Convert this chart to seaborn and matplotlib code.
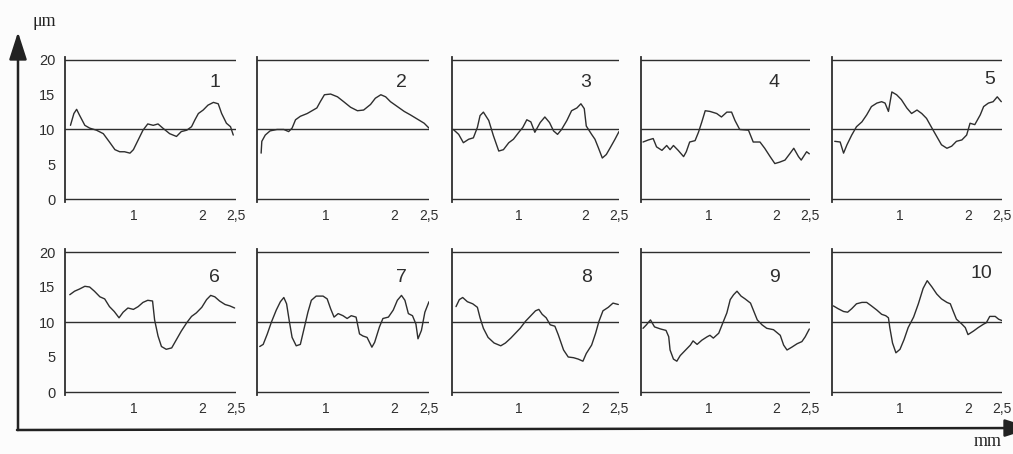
import matplotlib
matplotlib.use("Agg")
import matplotlib.pyplot as plt
import seaborn as sns
import pandas as pd

# профилограммы: x в мм, y в мкм
x1 = [0.08, 0.13, 0.17, 0.21, 0.29, 0.36, 0.46, 0.56, 0.65, 0.73, 0.80, 0.87, 0.95, 1.00, 1.07, 1.14, 1.21, 1.29,
      1.36, 1.43, 1.53, 1.63, 1.70, 1.78, 1.85, 1.90, 1.95, 2.02, 2.09, 2.17, 2.24, 2.29, 2.36, 2.42, 2.46]
y1 = [10.6, 12.3, 12.9, 12.1, 10.6, 10.2, 9.9, 9.4, 8.2, 7.1, 6.8, 6.8, 6.6, 7.1, 8.5, 9.9, 10.8, 10.6,
      10.8, 10.2, 9.4, 9.0, 9.7, 9.9, 10.4, 11.4, 12.3, 12.8, 13.5, 13.9, 13.7, 12.3, 10.9, 10.4, 9.2]

x2 = [0.06, 0.07, 0.12, 0.19, 0.29, 0.39, 0.46, 0.51, 0.56, 0.63, 0.73, 0.80, 0.87, 0.92, 0.98, 1.07, 1.17, 1.26,
      1.36, 1.46, 1.55, 1.65, 1.72, 1.80, 1.87, 1.94, 2.04, 2.14, 2.23, 2.33, 2.43, 2.50]
y2 = [6.6, 8.3, 9.2, 9.8, 10.0, 10.0, 9.7, 10.2, 11.4, 11.9, 12.3, 12.7, 13.1, 14.0, 15.0, 15.1, 14.7, 14.0,
      13.2, 12.7, 12.8, 13.6, 14.5, 15.0, 14.7, 14.0, 13.3, 12.6, 12.1, 11.5, 10.9, 10.2]

x3 = [0.02, 0.10, 0.17, 0.25, 0.32, 0.38, 0.42, 0.47, 0.55, 0.62, 0.70, 0.77, 0.85, 0.92, 1.00, 1.06, 1.12, 1.18,
      1.24, 1.32, 1.39, 1.46, 1.52, 1.58, 1.64, 1.72, 1.79, 1.87, 1.93, 1.98, 2.01, 2.09, 2.14, 2.19, 2.25, 2.31,
      2.37, 2.44, 2.50]
y3 = [10.0, 9.3, 8.1, 8.6, 8.8, 10.3, 12.0, 12.5, 11.3, 9.1, 6.9, 7.1, 8.1, 8.6, 9.6, 10.3, 11.4, 11.1,
      9.6, 11.0, 11.8, 11.0, 9.8, 9.3, 10.0, 11.3, 12.7, 13.1, 13.7, 13.0, 10.5, 9.3, 8.6, 7.4, 5.9, 6.4,
      7.4, 8.6, 9.7]

x4 = [0.03, 0.11, 0.18, 0.23, 0.31, 0.38, 0.43, 0.48, 0.55, 0.63, 0.67, 0.72, 0.80, 0.85, 0.90, 0.95, 1.02, 1.12,
      1.19, 1.27, 1.34, 1.39, 1.46, 1.59, 1.66, 1.76, 1.83, 1.91, 1.98, 2.05, 2.13, 2.20, 2.26, 2.33, 2.37, 2.45,
      2.49]
y4 = [8.2, 8.5, 8.7, 7.5, 7.0, 7.7, 7.1, 7.7, 7.0, 6.1, 6.8, 8.2, 8.4, 9.6, 11.1, 12.7, 12.6, 12.3,
      11.8, 12.5, 12.5, 11.3, 10.0, 9.9, 8.2, 8.2, 7.3, 6.1, 5.1, 5.3, 5.6, 6.5, 7.3, 6.1, 5.6, 6.8,
      6.5]

x5 = [0.04, 0.12, 0.17, 0.22, 0.29, 0.36, 0.44, 0.51, 0.58, 0.66, 0.73, 0.78, 0.83, 0.88, 0.95, 1.02, 1.10, 1.17,
      1.25, 1.32, 1.39, 1.47, 1.54, 1.61, 1.69, 1.76, 1.83, 1.91, 1.98, 2.03, 2.10, 2.18, 2.23, 2.30, 2.37, 2.43,
      2.49]
y5 = [8.3, 8.2, 6.6, 7.8, 9.2, 10.4, 11.1, 12.1, 13.3, 13.8, 14.0, 13.8, 12.6, 15.4, 15.0, 14.3, 13.1, 12.3,
      12.8, 12.3, 11.6, 10.2, 9.0, 7.8, 7.3, 7.6, 8.3, 8.5, 9.2, 10.9, 10.7, 12.1, 13.3, 13.8, 14.0, 14.7,
      14.0]

x6 = [0.07, 0.14, 0.21, 0.29, 0.36, 0.43, 0.51, 0.58, 0.65, 0.72, 0.79, 0.85, 0.92, 1.00, 1.07, 1.14, 1.21, 1.28,
      1.31, 1.36, 1.41, 1.48, 1.56, 1.63, 1.70, 1.78, 1.85, 1.92, 2.00, 2.07, 2.13, 2.19, 2.26, 2.34, 2.41, 2.48]
y6 = [13.9, 14.4, 14.7, 15.1, 15.0, 14.4, 13.6, 13.3, 12.2, 11.5, 10.6, 11.4, 12.0, 11.8, 12.2, 12.8, 13.1, 13.0,
      10.3, 8.0, 6.5, 6.1, 6.3, 7.5, 8.7, 9.9, 10.8, 11.3, 12.1, 13.2, 13.8, 13.6, 13.0, 12.5, 12.3, 12.0]

x7 = [0.04, 0.09, 0.15, 0.21, 0.28, 0.34, 0.39, 0.43, 0.47, 0.51, 0.57, 0.63, 0.69, 0.74, 0.79, 0.86, 0.96, 1.02,
      1.07, 1.12, 1.18, 1.25, 1.31, 1.37, 1.44, 1.49, 1.54, 1.60, 1.67, 1.71, 1.78, 1.83, 1.91, 1.98, 2.04, 2.10,
      2.15, 2.20, 2.26, 2.31, 2.34, 2.39, 2.44, 2.50]
y7 = [6.5, 6.8, 8.3, 10.0, 11.7, 12.9, 13.5, 12.6, 10.1, 7.8, 6.6, 6.8, 9.3, 11.4, 13.1, 13.7, 13.7, 13.3,
      11.9, 10.7, 11.2, 10.9, 10.5, 10.9, 10.7, 8.3, 8.0, 7.8, 6.4, 7.1, 9.3, 10.5, 10.7, 11.7, 13.1, 13.8,
      13.1, 11.2, 10.9, 9.7, 7.6, 8.8, 11.4, 12.9]

x8 = [0.06, 0.11, 0.16, 0.23, 0.31, 0.38, 0.42, 0.47, 0.54, 0.63, 0.73, 0.80, 0.88, 0.95, 1.02, 1.10, 1.17, 1.25,
      1.30, 1.35, 1.41, 1.47, 1.54, 1.59, 1.67, 1.74, 1.82, 1.89, 1.96, 2.01, 2.09, 2.15, 2.20, 2.26, 2.34, 2.41,
      2.49]
y8 = [12.2, 13.2, 13.5, 12.9, 12.6, 12.1, 10.6, 9.1, 7.8, 7.0, 6.6, 7.0, 7.7, 8.4, 9.1, 10.1, 10.8, 11.6,
      11.8, 11.1, 10.6, 9.6, 9.4, 8.2, 6.0, 5.0, 4.9, 4.7, 4.4, 5.5, 6.7, 8.4, 10.1, 11.6, 12.1, 12.7,
      12.5]

x9 = [0.03, 0.08, 0.14, 0.20, 0.29, 0.37, 0.41, 0.43, 0.48, 0.53, 0.58, 0.66, 0.73, 0.77, 0.83, 0.90, 0.98, 1.02,
      1.07, 1.15, 1.22, 1.27, 1.32, 1.37, 1.42, 1.48, 1.54, 1.62, 1.67, 1.72, 1.79, 1.86, 1.96, 2.06, 2.11, 2.16,
      2.23, 2.31, 2.38, 2.43, 2.49]
y9 = [9.1, 9.6, 10.3, 9.3, 9.0, 8.8, 7.9, 6.0, 4.7, 4.4, 5.2, 6.0, 6.7, 7.3, 6.8, 7.4, 7.9, 8.1,
      7.7, 8.4, 10.1, 11.3, 13.2, 13.9, 14.4, 13.7, 13.3, 12.7, 11.5, 10.3, 9.6, 9.1, 8.9, 8.1, 6.7, 6.0,
      6.4, 6.9, 7.2, 7.9, 9.0]

x10 = [0.02, 0.09, 0.17, 0.23, 0.29, 0.36, 0.44, 0.51, 0.58, 0.66, 0.73, 0.79, 0.83, 0.85, 0.89, 0.94, 1.00, 1.06,
       1.12, 1.20, 1.27, 1.34, 1.40, 1.47, 1.54, 1.61, 1.69, 1.74, 1.78, 1.83, 1.91, 1.96, 2.00, 2.08, 2.15, 2.23,
       2.27, 2.32, 2.40, 2.45, 2.50]
y10 = [12.3, 11.9, 11.5, 11.4, 11.9, 12.6, 12.8, 12.8, 12.3, 11.7, 11.1, 10.9, 10.6, 9.2, 7.0, 5.6, 6.1, 7.5,
       9.2, 10.7, 12.6, 14.8, 15.9, 15.0, 14.0, 13.3, 12.8, 12.6, 11.6, 10.4, 9.7, 9.2, 8.2, 8.7, 9.2, 9.7,
       9.9, 10.8, 10.8, 10.4, 10.2]

panel_names = ["1", "2", "3", "4", "5", "6", "7", "8", "9", "10"]
xtick_vals = [1, 2, 2.5]
xtick_text = ["1", "2", "2,5"]
ytick_vals = [0, 5, 10, 15, 20]
ref_levels = [0, 10, 20]

profiles = [(x1, y1), (x2, y2), (x3, y3), (x4, y4), (x5, y5),
            (x6, y6), (x7, y7), (x8, y8), (x9, y9), (x10, y10)]

sns.set_theme(style="white")
plt.rcParams["font.family"] = ["Liberation Sans", "DejaVu Sans"]

W, H = 1013, 454
fig = plt.figure(figsize=(W / 100, H / 100), dpi=100, facecolor="#fcfcfc")
ink = "#2e2e2e"

# положение панелей в пикселях
col_left = [65, 257, 452, 641, 832]
col_right = [236, 429, 619, 810, 1002]
row_top = [57.2, 249.2]
row_bot = [201.8, 394.8]

label_pos = [(2.19, 16.7), (2.10, 16.7), (2.00, 16.7), (1.97, 16.7), (2.32, 17.2),
             (2.19, 16.4), (2.10, 16.4), (2.02, 16.4), (1.97, 16.4), (2.20, 17.0)]

for i, (px, py) in enumerate(profiles):
    r, c = divmod(i, 5)
    ax = fig.add_axes([col_left[c] / W, 1 - row_bot[r] / H,
                       (col_right[c] - col_left[c]) / W, (row_bot[r] - row_top[r]) / H])
    ax.set_facecolor("none")
    df = pd.DataFrame({"x": px, "y": py})
    sns.lineplot(data=df, x="x", y="y", ax=ax, color=ink, linewidth=1.0, sort=False)
    for lv in ref_levels:
        ax.axhline(lv, color=ink, linewidth=1.0, zorder=1)
    ax.set_xlim(0, 2.5)
    ax.set_ylim(-0.4, 20.4)
    for s in ["top", "right", "bottom"]:
        ax.spines[s].set_visible(False)
    ax.spines["left"].set_color(ink)
    ax.spines["left"].set_linewidth(1.3)
    ax.set_xticks(xtick_vals)
    ax.set_xticklabels(xtick_text)
    ax.tick_params(axis="x", length=0, pad=5, labelsize=10, labelcolor=ink)
    if c == 0:
        ax.set_yticks(ytick_vals)
        ax.tick_params(axis="y", length=3, width=1.3, color=ink, pad=4, labelsize=10.5, labelcolor=ink)
    else:
        ax.set_yticks(ref_levels)
        ax.set_yticklabels([])
        ax.tick_params(axis="y", length=3, width=1.6, color=ink)
    ax.set_xlabel("")
    ax.set_ylabel("")
    lx, ly = label_pos[i]
    ax.text(lx, ly, panel_names[i], fontsize=14, color=ink, ha="center", va="center")

# общие оси со стрелками
ov = fig.add_axes([0, 0, 1, 1])
ov.set_xlim(0, W)
ov.set_ylim(H, 0)
ov.axis("off")
arrow_style = dict(arrowstyle="-|>,head_length=1.4,head_width=0.45", color="#222222", lw=1.8,
                   shrinkA=0, shrinkB=0)
ov.annotate("", xy=(18, 32), xytext=(18, 430), arrowprops=arrow_style, annotation_clip=False)
ov.annotate("", xy=(1032, 428), xytext=(17, 430), arrowprops=arrow_style, annotation_clip=False)
ov.text(44, 22, "μm", fontsize=13, family="Liberation Serif", color="#222222", ha="center", va="center")
ov.text(988, 442, "mm", fontsize=13, family="Liberation Serif", color="#222222", ha="center", va="center")

fig.savefig("out.png", dpi=100, facecolor=fig.get_facecolor())
